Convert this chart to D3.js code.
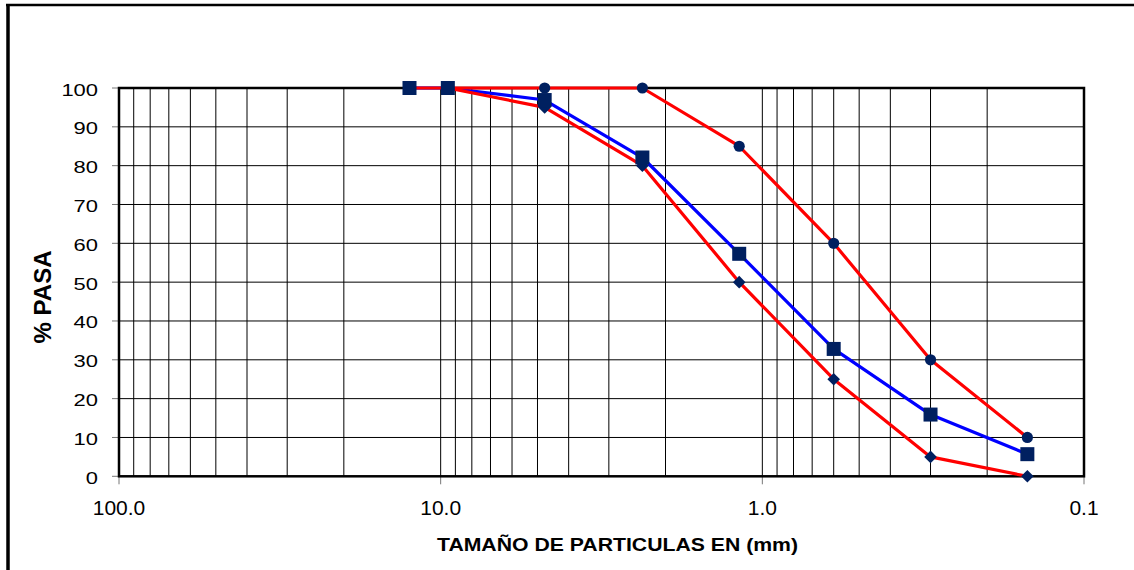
<!DOCTYPE html>
<html>
<head>
<meta charset="utf-8">
<script src="https://cdn.jsdelivr.net/npm/d3@7"></script>
<style>
  html, body { margin: 0; padding: 0; background: #fff; }
  svg { display: block; }
</style>
</head>
<body>
<svg id="chart" width="1134" height="570"></svg>
<script>
// ---- data ----
const sizes = [12.5, 9.5, 4.75, 2.36, 1.18, 0.6, 0.3, 0.15];
const upperLimit = [100, 100, 100, 100, 85, 60, 30, 10];          // red, circles
const sample     = [100, 100, 96.9, 82.1, 57.3, 32.8, 15.9, 5.7];  // blue, squares
const lowerLimit = [null, 100, 95, 80, 50, 25, 5, 0];              // red, diamonds
const yTicks = [0, 10, 20, 30, 40, 50, 60, 70, 80, 90, 100];
const xTicks = [100, 10, 1, 0.1];
const xTickLabels = ["100.0", "10.0", "1.0", "0.1"];
const xTitle = "TAMAÑO DE PARTICULAS EN (mm)";
const yTitle = "% PASA";

// ---- layout ----
const svg = d3.select("#chart");
const L = 119, R = 1084, T = 88, B = 476.3;
const x = d3.scaleLog().domain([100, 0.1]).range([L, R]);
const y = d3.scaleLinear().domain([0, 100]).range([B, T]);

svg.append("rect").attr("width", 1134).attr("height", 570).attr("fill", "#fff");

// outer border (extends past right/bottom)
svg.append("line").attr("x1", 8).attr("x2", 8).attr("y1", 4).attr("y2", 600)
  .attr("stroke", "#000").attr("stroke-width", 3.5);
svg.append("line").attr("x1", 6).attr("x2", 1200).attr("y1", 5).attr("y2", 5)
  .attr("stroke", "#000").attr("stroke-width", 2.5);

// vertical gridlines (log minors)
const vGrid = [];
[100, 10, 1].forEach(dec => {
  for (let k = 1; k <= 9; k++) vGrid.push(dec * k / 10);
});
const grid = svg.append("g");
grid.selectAll("line.v").data(vGrid.filter(v => v < 100 && v > 0.1)).enter().append("line")
  .attr("x1", d => x(d)).attr("x2", d => x(d)).attr("y1", T).attr("y2", B)
  .attr("stroke", "#000").attr("stroke-width", 1);
grid.selectAll("line.h").data(yTicks.filter(v => v > 0 && v < 100)).enter().append("line")
  .attr("x1", L).attr("x2", R).attr("y1", d => y(d)).attr("y2", d => y(d))
  .attr("stroke", "#000").attr("stroke-width", 1);

// y ticks & labels
const yAxisG = svg.append("g");
yAxisG.selectAll("line").data(yTicks).enter().append("line")
  .attr("x1", L - 7).attr("x2", L).attr("y1", d => y(d)).attr("y2", d => y(d))
  .attr("stroke", "#777").attr("stroke-width", 1);
yAxisG.selectAll("text").data(yTicks).enter().append("text")
  .attr("x", 98).attr("y", d => y(d) + 7.5)
  .attr("text-anchor", "end")
  .attr("font-family", "'Liberation Sans', Arial, sans-serif")
  .attr("font-size", 17)
  .attr("textLength", d => String(d).length * 12.2)
  .attr("lengthAdjust", "spacingAndGlyphs")
  .attr("fill", "#000")
  .text(d => d);

// x ticks & labels
const xAxisG = svg.append("g");
xAxisG.selectAll("line").data(xTicks).enter().append("line")
  .attr("x1", d => x(d)).attr("x2", d => x(d)).attr("y1", B).attr("y2", B + 8)
  .attr("stroke", "#777").attr("stroke-width", 1);
xAxisG.selectAll("text").data(xTicks).enter().append("text")
  .attr("x", d => x(d)).attr("y", 515)
  .attr("text-anchor", "middle")
  .attr("font-family", "'Liberation Sans', Arial, sans-serif")
  .attr("font-size", 21)
  .attr("fill", "#000")
  .text((d, i) => xTickLabels[i]);

// plot frame
svg.append("rect").attr("x", L).attr("y", T).attr("width", R - L).attr("height", B - T)
  .attr("fill", "none").attr("stroke", "#000").attr("stroke-width", 2.5);

// titles
svg.append("text")
  .attr("x", 617.5).attr("y", 550.7)
  .attr("text-anchor", "middle")
  .attr("font-family", "'Liberation Sans', Arial, sans-serif")
  .attr("font-weight", "bold")
  .attr("font-size", 18.5)
  .attr("textLength", 361)
  .attr("lengthAdjust", "spacingAndGlyphs")
  .text(xTitle);

svg.append("text")
  .attr("transform", "translate(51,297) rotate(-90)")
  .attr("text-anchor", "middle")
  .attr("font-family", "'Liberation Sans', Arial, sans-serif")
  .attr("font-weight", "bold")
  .attr("font-size", 24)
  .attr("textLength", 93)
  .attr("lengthAdjust", "spacingAndGlyphs")
  .text(yTitle);

// series
function pts(vals) {
  return sizes.map((s, i) => ({ s, v: vals[i] })).filter(d => d.v !== null);
}
const line = d3.line().x(d => x(d.s)).y(d => y(d.v));
const marker = "#002060";

svg.append("path").datum(pts(sample)).attr("d", line)
  .attr("fill", "none").attr("stroke", "#0000FF").attr("stroke-width", 3.2).attr("stroke-linejoin", "round");
svg.append("path").datum(pts(upperLimit)).attr("d", line)
  .attr("fill", "none").attr("stroke", "#FF0000").attr("stroke-width", 3.2).attr("stroke-linejoin", "round");
svg.append("path").datum(pts(lowerLimit)).attr("d", line)
  .attr("fill", "none").attr("stroke", "#FF0000").attr("stroke-width", 3.2).attr("stroke-linejoin", "round");

// markers
svg.append("g").selectAll("circle").data(pts(upperLimit)).enter().append("circle")
  .attr("cx", d => x(d.s)).attr("cy", d => y(d.v)).attr("r", 5.6).attr("fill", marker);
svg.append("g").selectAll("path").data(pts(lowerLimit)).enter().append("path")
  .attr("d", d => {
    const cx = x(d.s), cy = y(d.v), r = 6.3;
    return `M${cx},${cy - r}L${cx + r},${cy}L${cx},${cy + r}L${cx - r},${cy}Z`;
  }).attr("fill", marker);
svg.append("g").selectAll("rect").data(pts(sample)).enter().append("rect")
  .attr("x", d => x(d.s) - 7).attr("y", d => y(d.v) - 7)
  .attr("width", 14).attr("height", 14).attr("fill", marker);
</script>
</body>
</html>
